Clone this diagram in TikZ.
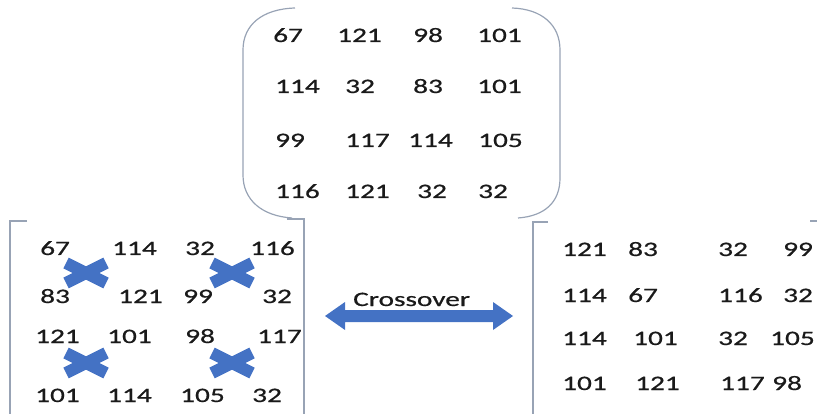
\documentclass[tikz,border=0pt]{standalone}
\usepackage{fontspec}
\setmainfont[FakeStretch=1.43,FakeBold=0.7]{Carlito}
\definecolor{txt}{HTML}{1A1A1A}
\definecolor{brk}{HTML}{98A3B5}
\definecolor{xblue}{HTML}{4472C4}
\begin{document}
\begin{tikzpicture}[x=1pt,y=-1pt,
  num/.style={anchor=base west,inner sep=0pt,font=\fontsize{20.5}{24}\selectfont,text=txt},
  brk/.style={draw=brk,line width=1.2pt},
  xmark/.style={draw=xblue,line width=12pt}]
\useasboundingbox (0,0) rectangle (817,414);
% top matrix
\node[num] (a11) at (273,42) {67};
\node[num] (a12) at (337,42) {121};
\node[num] (a13) at (413,42) {98};
\node[num] (a14) at (477,42) {101};
\node[num] (a21) at (275,93) {114};
\node[num] (a22) at (345,93) {32};
\node[num] (a23) at (413,93) {83};
\node[num] (a24) at (477,93) {101};
\node[num] (a31) at (275,147) {99};
\node[num] (a32) at (345,147) {117};
\node[num] (a33) at (408,147) {114};
\node[num] (a34) at (478,147) {105};
\node[num] (a41) at (275,198) {116};
\node[num] (a42) at (345,198) {121};
\node[num] (a43) at (417,198) {32};
\node[num] (a44) at (478,198) {32};
\draw[brk] (295,8) .. controls (262,9) and (243,25) .. (243,50) -- (243,175) .. controls (243,200) and (262,216) .. (292,218);
\draw[brk] (512,8) .. controls (542,9) and (560,25) .. (560,50) -- (560,178) .. controls (560,202) and (545,216) .. (518,218);
% bottom-left matrix
\draw[brk] (27,221) -- (10,221) -- (10,416);
\draw[brk] (287,219) -- (304,219) -- (304,416);
\foreach \cx/\cy in {86/273,232/273,86/363,232/363}{
  \draw[xmark] (\cx-20,\cy-10) -- (\cx+20,\cy+10);
  \draw[xmark] (\cx-20,\cy+10) -- (\cx+20,\cy-10);
}
\node[num] (b11) at (40,255) {67};
\node[num] (b12) at (112,255) {114};
\node[num] (b13) at (185,255) {32};
\node[num] (b14) at (250,255) {116};
\node[num] (b21) at (40,303) {83};
\node[num] (b22) at (118,303) {121};
\node[num] (b23) at (183,303) {99};
\node[num] (b24) at (262,303) {32};
\node[num] (b31) at (35,343) {121};
\node[num] (b32) at (107,343) {101};
\node[num] (b33) at (185,343) {98};
\node[num] (b34) at (257,343) {117};
\node[num] (b41) at (35,402) {101};
\node[num] (b42) at (107,402) {114};
\node[num] (b43) at (180,402) {105};
\node[num] (b44) at (252,402) {32};
% arrow
\fill[xblue] (325,316) -- (345,302) -- (345,310) -- (493,310) -- (493,302) -- (513,316) -- (493,330) -- (493,322) -- (345,322) -- (345,330) -- cycle;
\node[num] (lab) at (353,306) {Crossover};
% bottom-right matrix
\draw[brk] (548,222) -- (533,222) -- (533,416);
\draw[brk] (810,221) -- (818,221);
\node[num] (c11) at (562,256) {121};
\node[num] (c12) at (628,256) {83};
\node[num] (c13) at (718,256) {32};
\node[num] (c14) at (783,256) {99};
\node[num] (c21) at (562,302) {114};
\node[num] (c22) at (628,302) {67};
\node[num] (c23) at (718,302) {116};
\node[num] (c24) at (783,302) {32};
\node[num] (c31) at (562,345) {114};
\node[num] (c32) at (633,345) {101};
\node[num] (c33) at (718,345) {32};
\node[num] (c34) at (770,345) {105};
\node[num] (c41) at (562,390) {101};
\node[num] (c42) at (635,390) {121};
\node[num] (c43) at (720,390) {117};
\node[num] (c44) at (772,390) {98};
\end{tikzpicture}
\end{document}
